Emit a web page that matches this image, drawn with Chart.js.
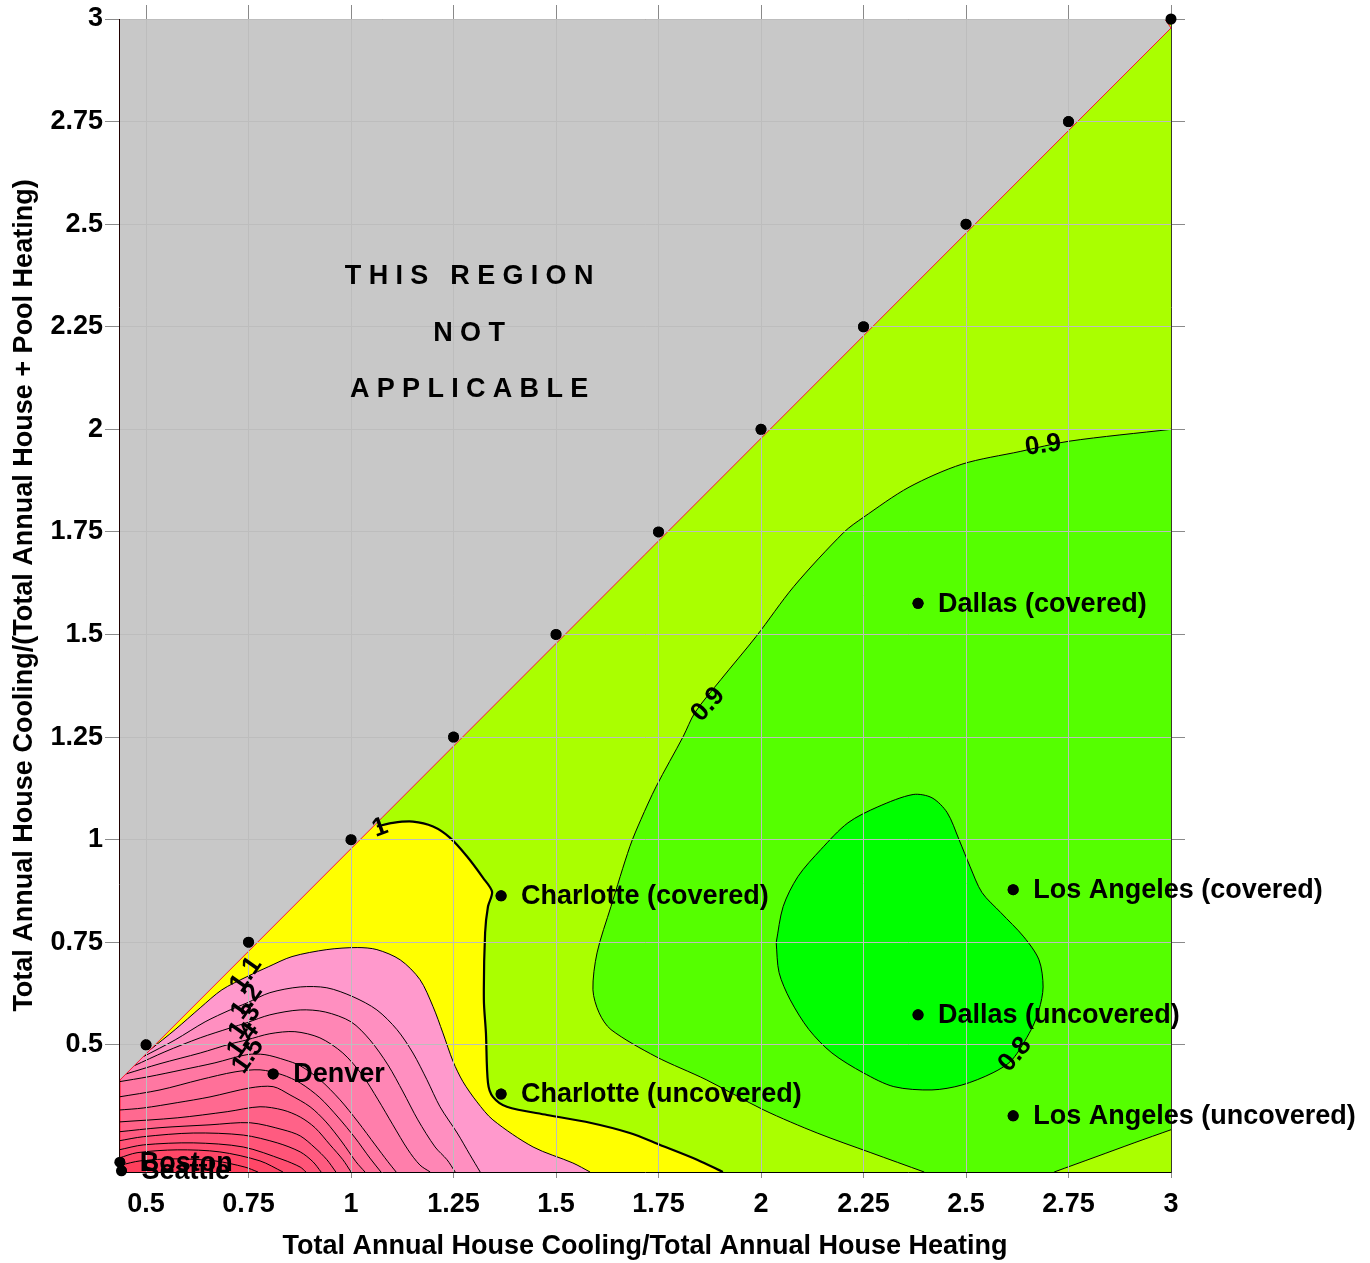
<!DOCTYPE html>
<html>
<head>
<meta charset="utf-8">
<script src="https://cdn.jsdelivr.net/npm/chart.js@4.4.1/dist/chart.umd.min.js"></script>
<style>
html, body { margin: 0; padding: 0; background: #fff; }
#wrap { width: 1370px; height: 1263px; }
canvas { display: block; }
</style>
</head>
<body>
<div id="wrap"><canvas id="chart" width="1370" height="1263"></canvas></div>
<script>
// ---- axes ----
const xMin = 0.434, xMax = 3, yMin = 0.19, yMax = 3;
const xTicks = [0.5, 0.75, 1, 1.25, 1.5, 1.75, 2, 2.25, 2.5, 2.75, 3];
const xTickLabels = ['0.5', '0.75', '1', '1.25', '1.5', '1.75', '2', '2.25', '2.5', '2.75', '3'];
const yTicks = [0.5, 0.75, 1, 1.25, 1.5, 1.75, 2, 2.25, 2.5, 2.75, 3];
const yTickLabels = ['0.5', '0.75', '1', '1.25', '1.5', '1.75', '2', '2.25', '2.5', '2.75', '3'];
const xTitle = 'Total Annual House Cooling/Total Annual House Heating';
const yTitle = 'Total Annual House Cooling/(Total Annual House + Pool Heating)';

// ---- limit of the valid region (cooling share cannot exceed the house-only ratio) ----
const boundaryLine = [[0.434, 0.412], [3, 2.978], [2.985, 3]];
const limitX = [0.5, 0.75, 1, 1.25, 1.5, 1.75, 2, 2.25, 2.5, 2.75, 3];
const limitY = [0.5, 0.75, 1, 1.25, 1.5, 1.75, 2, 2.25, 2.5, 2.75, 3];

// ---- cities ----
const cityNames = ['Seattle', 'Boston', 'Denver', 'Charlotte (covered)', 'Charlotte (uncovered)',
  'Dallas (covered)', 'Dallas (uncovered)', 'Los Angeles (covered)', 'Los Angeles (uncovered)'];
const cityX = [0.44, 0.436, 0.81, 1.366, 1.366, 2.383, 2.383, 2.615, 2.615];
const cityY = [0.193, 0.214, 0.429, 0.863, 0.380, 1.576, 0.573, 0.878, 0.327];

// ---- contour lines [x, y] ----
const contour100 = [[1.063,1.032],[1.102,1.041],[1.151,1.044],[1.2,1.032],[1.241,1.005],[1.283,0.959],[1.322,0.907],
  [1.344,0.873],[1.334,0.837],[1.327,0.773],[1.324,0.610],[1.329,0.529],[1.334,0.407],[1.346,0.373],[1.380,0.349],
  [1.478,0.329],[1.583,0.310],[1.680,0.285],[1.754,0.256],[1.844,0.220],[1.907,0.19]];
const contour090 = [[2.398,0.19],[2.268,0.237],[2.137,0.285],[2.007,0.341],[1.866,0.415],[1.744,0.471],[1.634,0.537],
  [1.605,0.578],[1.590,0.634],[1.600,0.724],[1.634,0.837],[1.680,0.983],[1.707,1.049],[1.744,1.129],[1.810,1.251],
  [1.839,1.310],[1.902,1.390],[1.988,1.495],[2.080,1.617],[2.202,1.749],[2.249,1.785],[2.361,1.859],[2.490,1.915],
  [2.632,1.946],[2.751,1.971],[3,2.0]];
const contour090b = [[2.715,0.19],[2.817,0.227],[2.910,0.261],[3,0.293]];
const contour080 = [[2.037,0.749],[2.054,0.837],[2.090,0.910],[2.146,0.976],[2.212,1.041],[2.285,1.080],[2.371,1.110],
  [2.417,1.102],[2.454,1.066],[2.483,1.0],[2.510,0.934],[2.539,0.871],[2.585,0.822],[2.641,0.763],[2.678,0.707],
  [2.688,0.641],[2.678,0.585],[2.659,0.537],[2.612,0.463],[2.566,0.432],[2.490,0.402],[2.417,0.390],[2.324,0.398],
  [2.249,0.432],[2.173,0.480],[2.117,0.537],[2.071,0.610],[2.044,0.676],[2.037,0.749]];
const contour110 = [[0.510,0.488],[0.571,0.537],[0.632,0.590],[0.685,0.634],[0.746,0.666],[0.798,0.690],[0.856,0.715],
  [0.941,0.732],[1.015,0.737],[1.063,0.732],[1.120,0.707],[1.168,0.659],[1.200,0.593],[1.224,0.529],[1.249,0.459],
  [1.273,0.410],[1.307,0.361],[1.346,0.317],[1.444,0.251],[1.541,0.212],[1.583,0.19]];
const contour120 = [[0.493,0.471],[0.571,0.512],[0.644,0.556],[0.705,0.585],[0.746,0.602],[0.802,0.627],[0.876,0.641],
  [0.941,0.639],[1.005,0.617],[1.063,0.585],[1.112,0.537],[1.151,0.480],[1.185,0.415],[1.217,0.349],[1.259,0.285],
  [1.290,0.232],[1.315,0.19]];
const contour130 = [[0.471,0.449],[0.546,0.483],[0.632,0.517],[0.705,0.541],[0.746,0.554],[0.802,0.573],[0.876,0.585],
  [0.937,0.580],[1.0,0.556],[1.046,0.512],[1.090,0.451],[1.127,0.385],[1.163,0.317],[1.205,0.251],[1.234,0.220],[1.254,0.19]];
const contour140 = [[0.451,0.429],[0.534,0.454],[0.632,0.480],[0.705,0.502],[0.746,0.512],[0.802,0.527],[0.863,0.532],
  [0.924,0.517],[0.980,0.480],[1.027,0.427],[1.066,0.366],[1.102,0.305],[1.139,0.244],[1.168,0.207],[1.193,0.19]];
const contour150 = [[0.434,0.410],[0.505,0.422],[0.588,0.439],[0.668,0.456],[0.746,0.476],[0.790,0.476],[0.839,0.463],
  [0.876,0.449],[0.924,0.415],[0.973,0.366],[1.017,0.312],[1.059,0.256],[1.090,0.215],[1.110,0.19]];
const contour160 = [[0.434,0.373],[0.534,0.390],[0.632,0.415],[0.717,0.434],[0.778,0.439],[0.832,0.427],[0.876,0.407],
  [0.924,0.371],[0.968,0.324],[1.010,0.273],[1.046,0.224],[1.073,0.19]];
const contour170 = [[0.434,0.341],[0.493,0.346],[0.576,0.359],[0.656,0.373],[0.754,0.395],[0.810,0.398],[0.851,0.378],
  [0.900,0.349],[0.939,0.312],[0.978,0.263],[1.012,0.215],[1.034,0.19]];
const contour180 = [[0.434,0.312],[0.576,0.322],[0.698,0.337],[0.778,0.349],[0.834,0.341],[0.876,0.324],[0.912,0.298],
  [0.949,0.256],[0.980,0.220],[1.0,0.19]];
const contour190 = [[0.434,0.288],[0.534,0.298],[0.656,0.305],[0.754,0.310],[0.834,0.293],[0.876,0.278],[0.912,0.249],
  [0.941,0.220],[0.963,0.19]];
const contour200 = [[0.434,0.266],[0.493,0.276],[0.615,0.285],[0.737,0.280],[0.820,0.261],[0.876,0.239],[0.907,0.215],[0.927,0.19]];
const contour210 = [[0.434,0.244],[0.493,0.256],[0.615,0.261],[0.737,0.251],[0.834,0.220],[0.876,0.202],[0.890,0.19]];
const contour220 = [[0.434,0.224],[0.478,0.237],[0.576,0.244],[0.680,0.239],[0.778,0.217],[0.834,0.19]];
const contour230 = [[0.439,0.207],[0.485,0.217],[0.571,0.222],[0.668,0.217],[0.741,0.202],[0.773,0.19]];

const pinkLevels = [1.1, 1.2, 1.3, 1.4, 1.5, 1.6, 1.7, 1.8, 1.9, 2.0, 2.1, 2.2, 2.3];
const pinkContours = [contour110, contour120, contour130, contour140, contour150, contour160, contour170,
  contour180, contour190, contour200, contour210, contour220, contour230];

// ---- contour labels ----
const contourLabelText = ['1', '1.1', '1.2', '1.3', '1.4', '1.5', '0.9', '0.9', '0.8'];
const contourLabelX = [1.071, 0.744, 0.746, 0.741, 0.737, 0.749, 1.871, 2.688, 2.620];
const contourLabelY = [1.029, 0.671, 0.605, 0.556, 0.510, 0.473, 1.329, 1.961, 0.476];

// ---- note in the invalid region ----
const noteLines = ['THIS REGION', 'NOT', 'APPLICABLE'];
const noteX = 1.288;
const noteY = [2.373, 2.234, 2.098];

// ---------------- styling ----------------
const FONT = '"Liberation Sans", Arial, Helvetica, sans-serif';
Chart.defaults.font.family = FONT;
const pinkColors = ['#FF99CC', '#FF8FC0', '#FF86B5', '#FF7EAB', '#FF77A2', '#FF7099', '#FF6990',
  '#FF6288', '#FF5B80', '#FF5578', '#FF4E70', '#FF4767', '#FF3F5C'];
const labelAngles = [-20, -55, -55, -55, -55, -55, -48, -8, -50];
const SMOOTH = 0.3;

const pts = a => a.map(([x, y]) => ({ x, y }));
// repeating a contour's end vertex keeps the filled band's spline identical to the drawn line
const withEnd = c => [...c, c[c.length - 1]];
const withEnds = c => [c[0], ...c, c[c.length - 1]];
const datasets = [];
function addFill(poly, color, tension) {
  datasets.push({ data: pts(poly), backgroundColor: color, borderWidth: 0, borderColor: 'rgba(0,0,0,0)',
    fill: 'shape', pointRadius: 0, pointHitRadius: 0, tension });
}
function addLine(line, width, color, tension) {
  datasets.push({ data: pts(line), borderColor: color, borderWidth: width, fill: false,
    pointRadius: 0, pointHitRadius: 0, tension });
}
const leftCorners = [[xMin, yMin], [xMin, yMin], [xMin, yMax], [xMin, yMax]];

// filled bands, bottom to top
addFill([...withEnd(contour100), ...leftCorners], '#FFFF00', SMOOTH);
pinkContours.forEach((c, i) => addFill([...withEnd(c), ...leftCorners], pinkColors[i], SMOOTH));
addFill([...withEnd(contour090), ...withEnds(contour090b.slice().reverse())], '#55FF00', SMOOTH);
addFill(contour080, '#00FF00', SMOOTH);
// contour lines
addLine(contour100, 2.2, '#000', SMOOTH);
pinkContours.forEach(c => addLine(c, 1, '#000', SMOOTH));
addLine(contour090, 1, '#000', SMOOTH);
addLine(contour090b, 1, '#000', SMOOTH);
addLine(contour080, 1, '#000', SMOOTH);
// invalid region
addFill([...boundaryLine, [xMin, yMax]], '#C8C8C8', 0);
addLine(boundaryLine, 1, '#FF1030', 0);
// markers
const limitIdx = datasets.length;
datasets.push({ data: limitX.map((x, i) => ({ x, y: limitY[i] })), showLine: false, pointRadius: 5.5,
  pointBackgroundColor: '#000', pointBorderWidth: 0, pointHitRadius: 0 });
const cityIdx = datasets.length;
datasets.push({ data: cityX.map((x, i) => ({ x, y: cityY[i] })), showLine: false, pointRadius: 5.5,
  pointBackgroundColor: '#000', pointBorderWidth: 0, pointHitRadius: 0 });
// first dataset drawn lowest
datasets.forEach((d, i) => { d.order = datasets.length - i; });

const areaBackground = {
  id: 'areaBackground',
  beforeDatasetsDraw(chart) {
    const { ctx, chartArea: a } = chart;
    ctx.save();
    ctx.fillStyle = '#AAFF00';
    ctx.fillRect(a.left, a.top, a.right - a.left, a.bottom - a.top);
    ctx.restore();
  }
};

const overlay = {
  id: 'overlay',
  afterDraw(chart) {
    const { ctx } = chart;
    const xs = chart.scales.x, ys = chart.scales.y;
    const whole = { left: 0, top: 0, right: chart.width, bottom: chart.height };
    [limitIdx, cityIdx].forEach(i => chart.getDatasetMeta(i).data.forEach(p => p.draw(ctx, whole)));

    ctx.save();
    ctx.fillStyle = '#000';
    ctx.font = 'bold 27px ' + FONT;
    ctx.textBaseline = 'middle';
    ctx.textAlign = 'left';
    cityNames.forEach((name, i) => {
      ctx.fillText(name, xs.getPixelForValue(cityX[i]) + 20, ys.getPixelForValue(cityY[i]) + 1);
    });

    ctx.font = 'bold 26px ' + FONT;
    ctx.textAlign = 'center';
    contourLabelText.forEach((t, i) => {
      ctx.save();
      ctx.translate(xs.getPixelForValue(contourLabelX[i]), ys.getPixelForValue(contourLabelY[i]));
      ctx.rotate(labelAngles[i] * Math.PI / 180);
      ctx.fillText(t, 0, 0);
      ctx.restore();
    });

    // spaced capitals
    ctx.font = 'bold 27px ' + FONT;
    ctx.textAlign = 'left';
    const spacing = 7.3;
    const cx = xs.getPixelForValue(noteX);
    noteLines.forEach((line, k) => {
      const chars = [...line];
      const widths = chars.map(c => ctx.measureText(c).width);
      const total = widths.reduce((a, b) => a + b, 0) + spacing * (chars.length - 1);
      let x = cx - total / 2;
      const y = ys.getPixelForValue(noteY[k]);
      chars.forEach((c, j) => { ctx.fillText(c, x, y); x += widths[j] + spacing; });
    });
    ctx.restore();
  }
};

const tickFont = { size: 27, weight: 'bold' };
const gridColor = '#BDBDBD';
const tickMarkColor = '#8A8A8A';

new Chart(document.getElementById('chart'), {
  type: 'line',
  data: { datasets },
  options: {
    responsive: false,
    maintainAspectRatio: false,
    animation: false,
    devicePixelRatio: 1,
    layout: { padding: 0 },
    events: [],
    plugins: { legend: { display: false }, tooltip: { enabled: false }, title: { display: false } },
    scales: {
      x: {
        type: 'linear', position: 'bottom', min: xMin, max: xMax,
        afterBuildTicks: s => { s.ticks = xTicks.map(v => ({ value: v })); },
        afterFit: s => { s.height = 91; },
        ticks: { callback: v => xTickLabels[xTicks.indexOf(v)], font: tickFont, color: '#000',
          padding: 10, maxRotation: 0, autoSkip: false },
        grid: { color: gridColor, lineWidth: 1, tickLength: 6, tickColor: tickMarkColor, z: 1 },
        border: { color: '#000', z: 1 },
        title: { display: true, text: xTitle, font: tickFont, color: '#000', padding: { top: 0, bottom: 0 } }
      },
      x2: {
        type: 'linear', position: 'top', min: xMin, max: xMax,
        afterBuildTicks: s => { s.ticks = xTicks.map(v => ({ value: v })); },
        afterFit: s => { s.height = 19; },
        ticks: { display: false },
        grid: { drawOnChartArea: false, tickLength: 14, tickColor: tickMarkColor, z: 1 },
        border: { color: '#8A7A7A', z: 1 }
      },
      y: {
        type: 'linear', position: 'left', min: yMin, max: yMax,
        afterBuildTicks: s => { s.ticks = yTicks.map(v => ({ value: v })); },
        afterFit: s => { s.width = 119; },
        ticks: { callback: v => yTickLabels[yTicks.indexOf(v)], font: tickFont, color: '#000', padding: 2, autoSkip: false },
        grid: { color: gridColor, lineWidth: 1, tickLength: 14, tickColor: tickMarkColor, z: 1 },
        border: { color: '#200000', z: 1 },
        title: { display: true, text: yTitle, font: tickFont, color: '#000', padding: { top: 8, bottom: 0 } }
      },
      y2: {
        type: 'linear', position: 'right', min: yMin, max: yMax,
        afterBuildTicks: s => { s.ticks = yTicks.map(v => ({ value: v })); },
        afterFit: s => { s.width = 199; },
        ticks: { display: false },
        grid: { drawOnChartArea: false, tickLength: 14, tickColor: tickMarkColor, z: 1 },
        border: { color: '#3A3A2A', z: 1 }
      }
    }
  },
  plugins: [areaBackground, overlay]
});
</script>
</body>
</html>
